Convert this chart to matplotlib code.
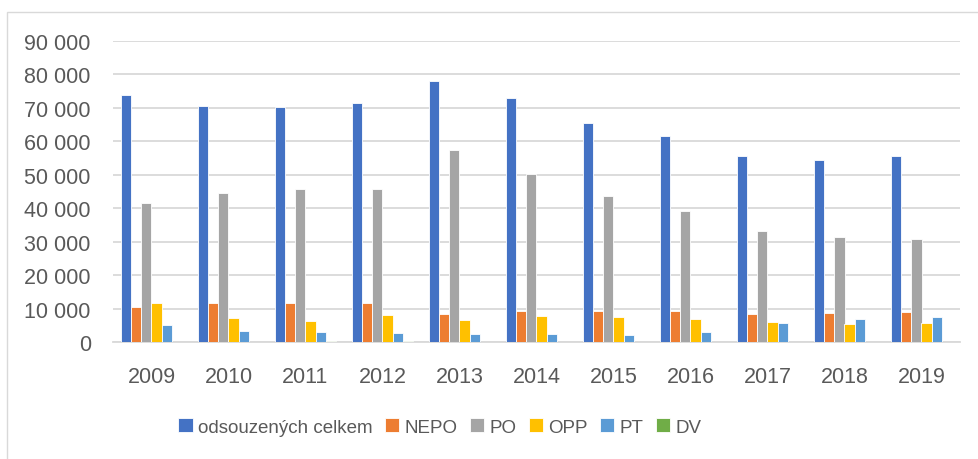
import matplotlib
matplotlib.use('Agg')
import matplotlib.pyplot as plt  # noqa
import matplotlib.ticker
from matplotlib.patches import Rectangle
import numpy as np

years = ['2009', '2010', '2011', '2012', '2013', '2014',
         '2015', '2016', '2017', '2018', '2019']

series_names = ['odsouzených celkem', 'NEPO', 'PO', 'OPP', 'PT', 'DV']

celkem = [73800, 70600, 70200, 71500, 78100, 72900,
          65500, 61500, 55700, 54400, 55600]
nepo = [10500, 11700, 11700, 11600, 8500, 9400,
        9400, 9400, 8300, 8600, 8900]
po = [41600, 44500, 45700, 45700, 57400, 50100,
      43700, 39200, 33300, 31300, 30800]
opp = [11700, 7300, 6300, 8000, 6600, 7900,
       7600, 7000, 5900, 5400, 5800]
pt = [5200, 3400, 3000, 2700, 2300, 2400,
      2200, 3100, 5600, 6800, 7500]
dv = [0, 0, 150, 150, 0, 0, 0, 0, 0, 0, 0]

COLORS = ['#4472C4', '#ED7D31', '#A5A5A5', '#FFC000', '#5B9BD5', '#70AD47']
COLOR_GRID = '#D9D9D9'
COLOR_TEXT = '#595959'

plt.rcParams['font.family'] = ['Liberation Sans', 'DejaVu Sans']

W, H = 979, 460
fig = plt.figure(figsize=(W / 100, H / 100), dpi=100)
ax = fig.add_axes([113 / W, 1 - 343 / H, (960 - 113) / W, (343 - 42) / H])

# chart area border
fig.patches.append(Rectangle((7 / W, -0.1), 1.1, 1 - 13 / H + 0.1,
                             transform=fig.transFigure, fill=False,
                             edgecolor=COLOR_GRID, linewidth=1))

x = np.arange(len(years))
width = 0.13
data = [celkem, nepo, po, opp, pt, dv]
for i, (vals, name, color) in enumerate(zip(data, series_names, COLORS)):
    ax.bar(x + (i - 2.5) * width, vals, width, color=color, label=name,
           edgecolor='white', linewidth=0.6, zorder=3)

ax.set_xlim(-0.5, len(years) - 0.5)
ax.set_ylim(0, 90000)
ax.yaxis.set_major_locator(matplotlib.ticker.MultipleLocator(10000))
ax.yaxis.set_major_formatter(matplotlib.ticker.FuncFormatter(
    lambda v, _: '{:,.0f}'.format(v).replace(',', ' ')))
ax.set_xticks(x)
ax.set_xticklabels(years)

ax.grid(axis='y', color=COLOR_GRID, linewidth=1.3, zorder=0)
for sp in ['left', 'right', 'top']:
    ax.spines[sp].set_visible(False)
ax.spines['bottom'].set_color(COLOR_GRID)
ax.spines['bottom'].set_linewidth(1.3)

ax.tick_params(axis='both', length=0, colors=COLOR_TEXT, labelsize=15.5)
ax.tick_params(axis='y', pad=16)
ax.tick_params(axis='x', pad=17)

fig.legend(loc='center', bbox_to_anchor=(440 / W, 1 - 428 / H), ncol=6,
           frameon=False, handlelength=0.75, handleheight=0.75,
           handletextpad=0.3, columnspacing=0.65,
           prop={'size': 13.5}, labelcolor=COLOR_TEXT)

fig.savefig('out.png', dpi=100)
